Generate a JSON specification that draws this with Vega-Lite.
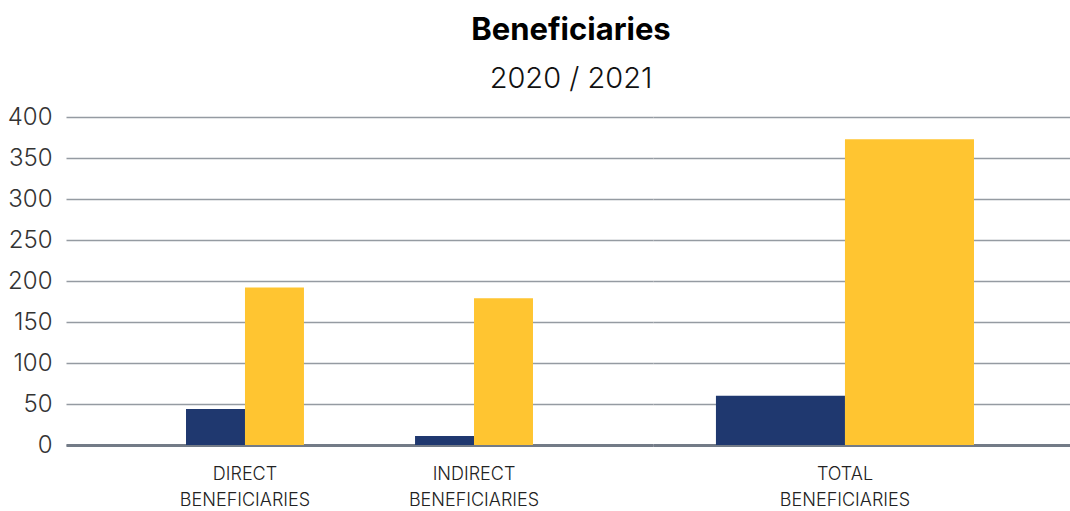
{
  "$schema": "https://vega.github.io/schema/vega-lite/v6.json",
  "padding": {"top": 15, "left": 0, "right": 0, "bottom": 0},
  "background": "white",
  "title": {
    "text": "Beneficiaries",
    "subtitle": "2020 / 2021",
    "anchor": "middle",
    "dx": 36,
    "font": "Inter",
    "fontSize": 31,
    "fontWeight": "bold",
    "color": "#000000",
    "subtitleFont": "Inter",
    "subtitleFontSize": 29,
    "subtitleFontWeight": 300,
    "subtitleColor": "#111111",
    "subtitlePadding": 18,
    "offset": 10
  },
  "data": {
    "values": [
      {"cat": "DIRECT BENEFICIARIES", "year": "2020", "value": 44},
      {"cat": "DIRECT BENEFICIARIES", "year": "2021", "value": 192},
      {"cat": "INDIRECT BENEFICIARIES", "year": "2020", "value": 11},
      {"cat": "INDIRECT BENEFICIARIES", "year": "2021", "value": 179},
      {"cat": "TOTAL BENEFICIARIES", "year": "2020", "value": 60},
      {"cat": "TOTAL BENEFICIARIES", "year": "2021", "value": 373}
    ]
  },
  "spacing": 0,
  "resolve": {"scale": {"x": "independent", "xOffset": "independent", "y": "independent", "color": "shared"}},
  "hconcat": [
    {
      "width": 587,
      "height": 328,
      "transform": [{"filter": "datum.cat !== 'TOTAL BENEFICIARIES'"}],
      "mark": {"type": "bar"},
      "encoding": {
        "x": {
          "field": "cat",
          "type": "nominal",
          "sort": ["DIRECT BENEFICIARIES", "INDIRECT BENEFICIARIES"],
          "scale": {"paddingInner": 0.485, "paddingOuter": 0.524},
          "title": null,
          "axis": {"labelExpr": "split(datum.label, ' ')"}
        },
        "xOffset": {"field": "year", "type": "nominal", "scale": {"paddingInner": 0, "paddingOuter": 0}},
        "y": {
          "field": "value",
          "type": "quantitative",
          "scale": {"domain": [0, 400], "nice": false},
          "title": null,
          "axis": {
            "values": [0, 50, 100, 150, 200, 250, 300, 350, 400],
            "labelFontSize": 24,
            "labelFontWeight": 300,
            "labelColor": "#333333",
            "labelPadding": 14,
            "minExtent": 66,
            "maxExtent": 66
          }
        },
        "color": {
          "field": "year",
          "type": "nominal",
          "scale": {"domain": ["2020", "2021"], "range": ["#1f386f", "#ffc531"]},
          "legend": null
        }
      }
    },
    {
      "width": 417,
      "height": 328,
      "transform": [{"filter": "datum.cat === 'TOTAL BENEFICIARIES'"}],
      "mark": {"type": "bar"},
      "encoding": {
        "x": {
          "field": "cat",
          "type": "nominal",
          "scale": {"paddingInner": 0, "paddingOuter": 0.308, "align": 0.396},
          "title": null,
          "axis": {"labelExpr": "split(datum.label, ' ')"}
        },
        "xOffset": {"field": "year", "type": "nominal", "scale": {"paddingInner": 0, "paddingOuter": 0}},
        "y": {
          "field": "value",
          "type": "quantitative",
          "scale": {"domain": [0, 400], "nice": false},
          "title": null,
          "axis": {
            "values": [0, 50, 100, 150, 200, 250, 300, 350, 400],
            "labels": false,
            "minExtent": 0,
            "maxExtent": 0
          }
        },
        "color": {
          "field": "year",
          "type": "nominal",
          "scale": {"domain": ["2020", "2021"], "range": ["#1f386f", "#ffc531"]},
          "legend": null
        }
      }
    }
  ],
  "config": {
    "view": {"stroke": null},
    "font": "Inter",
    "axis": {"labelFont": "Inter", "ticks": false},
    "axisY": {
      "grid": true,
      "gridColor": "#959ba2",
      "gridWidth": 1.5,
      "domain": false,
      "ticks": false
    },
    "axisX": {
      "grid": false,
      "domain": true,
      "domainColor": "#737b87",
      "domainWidth": 3,
      "ticks": false,
      "labelAngle": 0,
      "labelFontSize": 18,
      "labelFontWeight": 300,
      "labelColor": "#222222",
      "labelPadding": 20,
      "labelLineHeight": 26,
      "labelBaseline": "top"
    }
  }
}
